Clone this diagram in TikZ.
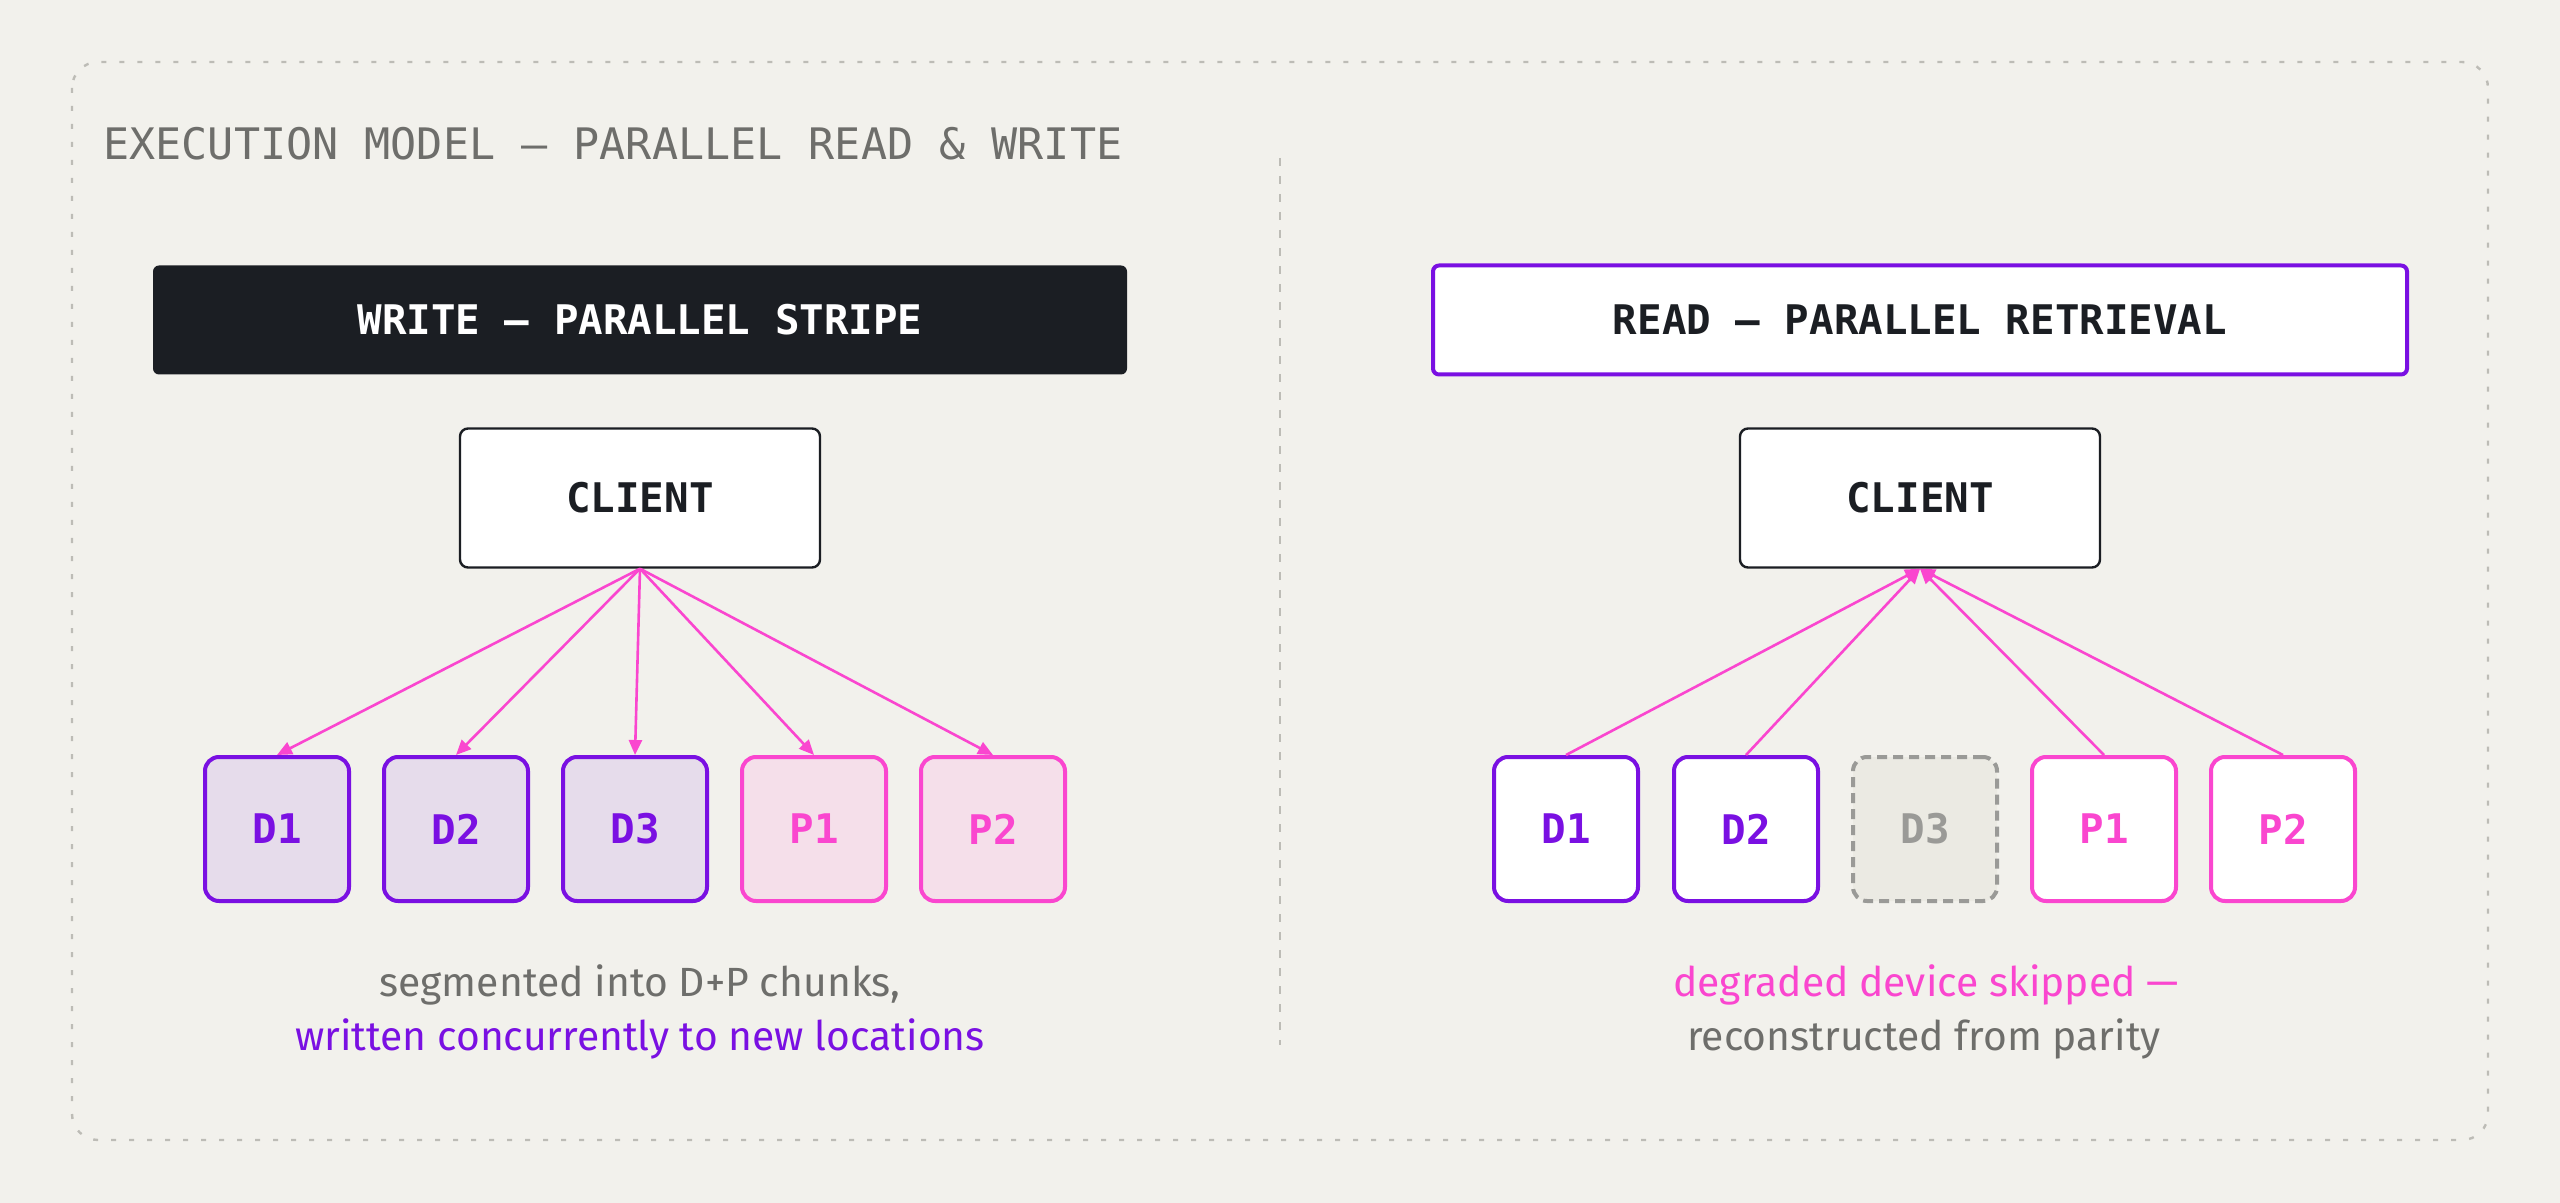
\documentclass[tikz,border=0pt]{standalone}
\usepackage{fontspec}
\setmainfont{Fira Sans}
\setmonofont{DejaVu Sans Mono}
\usetikzlibrary{arrows.meta}
\definecolor{bg}{HTML}{F2F1EC}
\definecolor{framec}{HTML}{BDBCB6}
\definecolor{titlegray}{HTML}{6E6E6B}
\definecolor{darkbox}{HTML}{1B1E23}
\definecolor{vio}{HTML}{7A10E2}
\definecolor{pnk}{HTML}{FA46CF}
\definecolor{dfill}{HTML}{E6DCEB}
\definecolor{pfill}{HTML}{F5DFEA}
\definecolor{grayfill}{HTML}{EBEAE3}
\definecolor{grayline}{HTML}{9A9A97}
\definecolor{captgray}{HTML}{6E6E6B}
\tikzset{
  monobold/.style={font=\ttfamily\bfseries\fontsize{20.4}{20.4}\selectfont},
  header/.style={monobold, minimum width=487pt, minimum height=54.5pt, inner sep=0pt, rounded corners=3pt},
  clientbox/.style={monobold, draw=darkbox, fill=white, line width=1.2pt, minimum width=180pt, minimum height=69.5pt, inner sep=0pt, rounded corners=4pt, text=darkbox},
  chunk/.style={monobold, line width=2pt, minimum width=72pt, minimum height=72pt, inner sep=0pt, rounded corners=7pt},
  dchunk/.style={chunk, draw=vio, fill=dfill, text=vio},
  pchunk/.style={chunk, draw=pnk, fill=pfill, text=pnk},
  rdchunk/.style={chunk, draw=vio, fill=white, text=vio},
  rpchunk/.style={chunk, draw=pnk, fill=white, text=pnk},
  deadchunk/.style={chunk, draw=grayline, fill=grayfill, text=grayline, dash pattern=on 5pt off 3pt},
  flow/.style={draw=pnk, line width=1.3pt, -{Triangle[length=7.5pt,width=6.5pt]}},
  caption/.style={font=\fontsize{20.4}{20.4}\selectfont, inner sep=0pt}
}
\begin{document}
\begin{tikzpicture}[x=0.5pt,y=-0.5pt]
\path[fill=bg] (0,0) rectangle (2560,1203);
\useasboundingbox (0,0) rectangle (2560,1203);

% outer frame
\draw[framec, line width=1.2pt, dash pattern=on 2.5pt off 6.5pt, rounded corners=13pt] (72,62) rectangle (2488,1140);
% divider
\draw[framec, line width=1pt, dash pattern=on 4pt off 5pt] (1280,158) -- (1280,1045);

% title
\node[anchor=west, inner sep=0pt, font=\ttfamily\fontsize{21.7}{21.7}\selectfont, text=titlegray] (title) at (103,144) {EXECUTION MODEL — PARALLEL READ \& WRITE};

% headers
\node[header, fill=darkbox, text=white] (wh) at (640,320) {WRITE — PARALLEL STRIPE};
\node[header, draw=vio, line width=2pt, fill=white, text=darkbox] (rh) at (1920,320) {READ — PARALLEL RETRIEVAL};

% clients
\node[clientbox] (wc) at (640,498) {\raisebox{-1.5pt}{CLIENT}};
\node[clientbox] (rc) at (1920,498) {\raisebox{-1.5pt}{CLIENT}};

% write chunks
\node[dchunk] (wd1) at (277,829) {D1};
\node[dchunk] (wd2) at (456,829) {D2};
\node[dchunk] (wd3) at (635,829) {D3};
\node[pchunk] (wp1) at (814,829) {P1};
\node[pchunk] (wp2) at (993,829) {P2};

% read chunks
\node[rdchunk] (rd1) at (1566,829) {D1};
\node[rdchunk] (rd2) at (1746,829) {D2};
\node[deadchunk] (rd3) at (1925,829) {D3};
\node[rpchunk] (rp1) at (2104,829) {P1};
\node[rpchunk] (rp2) at (2283,829) {P2};

% write arrows
\foreach \t in {wd1,wd2,wd3,wp1,wp2} \draw[flow] (wc.south) -- (\t.north);
% read arrows
\foreach \s in {rd1,rd2,rp1,rp2} \draw[flow] (\s.north) -- (rc.south);

% captions
\node[caption, text=captgray] (wcap1) at (640,985) {segmented into D+P chunks,};
\node[caption, text=vio] (wcap2) at (640,1039) {written concurrently to new locations};
\node[caption, text=pnk] (rcap1) at (1926,985) {degraded device skipped —};
\node[caption, text=captgray] (rcap2) at (1924,1039) {reconstructed from parity};
\end{tikzpicture}
\end{document}
